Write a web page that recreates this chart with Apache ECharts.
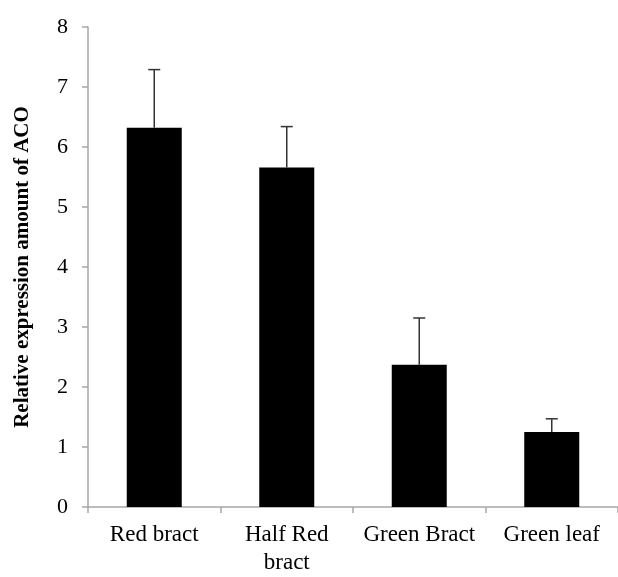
<!DOCTYPE html>
<html>
<head>
<meta charset="utf-8">
<script src="https://cdn.jsdelivr.net/npm/echarts@6/dist/echarts.min.js"></script>
<style>
  html, body { margin: 0; padding: 0; background: #fff; }
  #chart { width: 618px; height: 577px; }
</style>
</head>
<body>
<div id="chart"></div>
<script>
const categories = ['Red bract', 'Half Red\nbract', 'Green Bract', 'Green leaf']
const values = [6.32, 5.66, 2.37, 1.25]
const errors = [0.97, 0.68, 0.78, 0.22]
const yTicks = [0, 1, 2, 3, 4, 5, 6, 7, 8]

const FONT = '"Liberation Serif", "Times New Roman", serif'
const AXIS_GREY = '#a6a6a6'

const chart = echarts.init(document.getElementById('chart'), null, { renderer: 'canvas' })

chart.setOption({
  animation: false,
  grid: { left: 88, right: -5, top: 27, bottom: 63, containLabel: false },
  xAxis: {
    type: 'category',
    data: categories,
    axisLine: { lineStyle: { color: AXIS_GREY, width: 1.5 } },
    axisTick: { show: true, length: 6, alignWithLabel: false, lineStyle: { color: AXIS_GREY, width: 1.5 } },
    axisLabel: { color: '#000', fontFamily: FONT, fontSize: 23, margin: 14, lineHeight: 28, interval: 0 }
  },
  yAxis: {
    type: 'value',
    min: yTicks[0],
    max: yTicks[yTicks.length - 1],
    interval: 1,
    name: 'Relative expression amount of ACO',
    nameLocation: 'middle',
    nameGap: 55,
    nameTextStyle: { color: '#000', fontFamily: FONT, fontSize: 21, fontWeight: 'bold' },
    axisLine: { show: true, lineStyle: { color: AXIS_GREY, width: 1.5 } },
    axisTick: { show: true, length: 6, lineStyle: { color: AXIS_GREY, width: 1.5 } },
    axisLabel: { color: '#000', fontFamily: FONT, fontSize: 22, margin: 20 },
    splitLine: { show: false }
  },
  series: [
    {
      type: 'bar',
      data: values,
      barWidth: 55,
      itemStyle: { color: '#000' },
      z: 2
    },
    {
      // upper error bars only
      type: 'custom',
      data: values.map((v, i) => [i, v, v + errors[i]]),
      z: 3,
      renderItem: (params, api) => {
        const x = api.value(0)
        const base = api.coord([x, api.value(1)])
        const top = api.coord([x, api.value(2)])
        const half = 6
        return {
          type: 'group',
          children: [
            { type: 'line', shape: { x1: base[0], y1: base[1], x2: top[0], y2: top[1] }, style: { stroke: '#333', lineWidth: 1.5 } },
            { type: 'line', shape: { x1: top[0] - half, y1: top[1], x2: top[0] + half, y2: top[1] }, style: { stroke: '#333', lineWidth: 1.5 } }
          ]
        }
      }
    }
  ]
})
</script>
</body>
</html>
